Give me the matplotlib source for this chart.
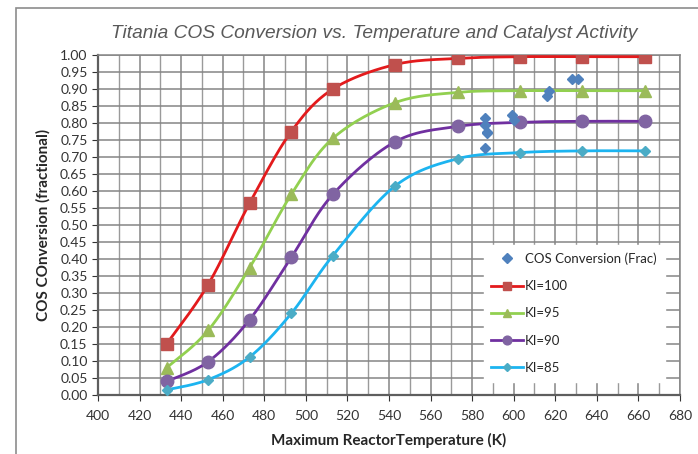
import numpy as np
import matplotlib
matplotlib.use("Agg")
import matplotlib.pyplot as plt
from matplotlib.patches import Rectangle
from matplotlib.ticker import MultipleLocator, FormatStrFormatter

# reactor temperature (K) for the model curves
temps = [433, 453, 473, 493, 513, 543, 573, 603, 633, 663]
ki_100 = [0.150, 0.325, 0.565, 0.775, 0.900, 0.972, 0.990, 0.995, 0.995, 0.995]
ki_95 = [0.080, 0.190, 0.375, 0.590, 0.755, 0.860, 0.890, 0.895, 0.895, 0.895]
ki_90 = [0.040, 0.098, 0.222, 0.405, 0.590, 0.745, 0.790, 0.802, 0.805, 0.805]
ki_85 = [0.015, 0.045, 0.112, 0.240, 0.410, 0.615, 0.695, 0.713, 0.718, 0.718]

# measured plant data
meas_t = [586, 586, 587, 587, 586, 599, 600, 616, 617, 628, 631]
meas_x = [0.815, 0.795, 0.775, 0.770, 0.727, 0.825, 0.810, 0.878, 0.893, 0.930, 0.928]

series = [
    ("KI=100", ki_100, "#E31A1C", "#C0504D", "s", 9),
    ("KI=95", ki_95, "#92D050", "#9BBB59", "^", 9),
    ("KI=90", ki_90, "#7030A0", "#8064A2", "o", 9),
    ("KI=85", ki_85, "#1CB4F0", "#4BACC6", "D", 5.5),
]


def smooth(x, y, n=30):
    # Excel-style smoothed line: cubic bezier with catmull-rom control points
    p = np.column_stack([x, y]).astype(float)
    p = np.vstack([p[0], p, p[-1]])
    out = []
    t = np.linspace(0, 1, n)[:, None]
    for i in range(1, len(p) - 2):
        p0, p3 = p[i], p[i + 1]
        c1 = p0 + (p[i + 1] - p[i - 1]) / 6.0
        c2 = p3 - (p[i + 2] - p[i]) / 6.0
        seg = (1 - t) ** 3 * p0 + 3 * (1 - t) ** 2 * t * c1 + 3 * (1 - t) * t ** 2 * c2 + t ** 3 * p3
        out.append(seg)
    out = np.vstack(out)
    return out[:, 0], out[:, 1]


plt.rcParams['font.family'] = ['Lato', 'DejaVu Sans']

fig = plt.figure(figsize=(6.98, 4.54), dpi=100)
ax = fig.add_axes([98 / 698, 59 / 454, 582 / 698, 340 / 454])

# outer chart frame
fig.patches.append(Rectangle((16 / 698, -0.05), 1.0, 1 - 8 / 454 + 0.05,
                             transform=fig.transFigure, fill=False,
                             edgecolor="#8C8C8C", linewidth=1.2))

ax.set_xlim(400, 680)
ax.set_ylim(0, 1.0)
ax.xaxis.set_major_locator(MultipleLocator(20))
ax.xaxis.set_minor_locator(MultipleLocator(10))
ax.yaxis.set_major_locator(MultipleLocator(0.05))
ax.yaxis.set_major_formatter(FormatStrFormatter('%.2f'))
ax.grid(which='major', color='#858585', linewidth=1.1)
ax.grid(which='minor', axis='x', color='#9A9A9A', linewidth=1.0)
ax.set_axisbelow(True)
ax.tick_params(axis='both', which='major', labelsize=10, colors='#333333',
               length=4, direction='out')
ax.tick_params(axis='x', which='major', pad=7)
ax.tick_params(axis='both', which='minor', length=0)
for s in ax.spines.values():
    s.set_color('#858585')
    s.set_linewidth(1.1)
ax.spines['left'].set_color('#5E5E5E')
ax.spines['bottom'].set_color('#5E5E5E')
ax.spines['left'].set_linewidth(1.6)
ax.spines['bottom'].set_linewidth(1.6)

ax.plot(meas_t, meas_x, linestyle='none', marker='D', markersize=5.5,
        color='#4F81BD', label='COS Conversion (Frac)', zorder=5)

for name, vals, lc, mc, mk, ms in series:
    sx, sy = smooth(temps, vals)
    ax.plot(sx, sy, color=lc, linewidth=2.0, zorder=3)
    ax.plot(temps, vals, linestyle='none', marker=mk, markersize=ms,
            color=mc, markeredgecolor=mc, zorder=4)
    ax.plot([], [], color=lc, linewidth=2.0, marker=mk, markersize=ms * 0.7,
            markerfacecolor=mc, markeredgecolor=mc, label=name)

leg = ax.legend(loc='lower right', bbox_to_anchor=(0.985, 0.02), fontsize=9.5,
                frameon=True, fancybox=False, edgecolor='white', framealpha=1,
                handlelength=2.4, handletextpad=0.15, labelspacing=1.15,
                borderpad=0.6)
for t in leg.get_texts():
    t.set_color('#262626')

ax.set_xlabel('Maximum ReactorTemperature (K)', fontsize=11, fontweight='bold',
              color='#262626', labelpad=8)
ax.set_ylabel('COS COnversion (fractional)', fontsize=11, fontweight='bold',
              color='#262626', labelpad=7)
fig.text(374 / 698, 1 - 33 / 454, 'Titania COS Conversion vs. Temperature and Catalyst Activity',
         ha='center', va='center', fontsize=13.8, style='italic', color='#595959',
         family=['Liberation Sans', 'DejaVu Sans'])

fig.savefig('out.png', dpi=100)
